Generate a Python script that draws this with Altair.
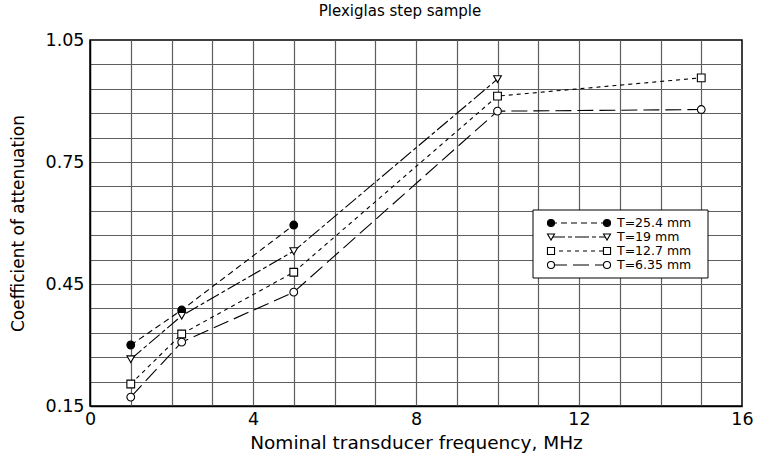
import altair as alt
import pandas as pd

# ---- data ----
series = ["T=25.4 mm", "T=19 mm", "T=12.7 mm", "T=6.35 mm"]
freq = [1, 2.25, 5, 10, 15]
t254 = [0.300, 0.386, 0.595]
t19 = [0.265, 0.372, 0.531, 0.954]
t127 = [0.204, 0.327, 0.479, 0.912, 0.957]
t635 = [0.172, 0.307, 0.430, 0.875, 0.879]

x_grid = [0, 1, 2, 3, 4, 5, 6, 7, 8, 9, 10, 11, 12, 13, 14, 15, 16]
y_grid = [0.15, 0.21, 0.27, 0.33, 0.39, 0.45, 0.51, 0.57, 0.63, 0.69,
          0.75, 0.81, 0.87, 0.93, 0.99, 1.05]

rows = []
for name, vals in zip(series, [t254, t19, t127, t635]):
    for f, v in zip(freq, vals):
        rows.append({"series": name, "freq": f, "coef": v})
df = pd.DataFrame(rows)

leg = pd.DataFrame({"series": series, "row": [0, 1, 2, 3]})

FONT = "DejaVu Sans"
dash_scale = alt.Scale(domain=series,
                       range=[[6, 4], [14, 3, 4, 3], [4, 4], [16, 6]])
shape_scale = alt.Scale(domain=series,
                        range=["circle", "triangle-down", "square", "circle"])
fill_scale = alt.Scale(domain=series,
                       range=["black", "white", "white", "white"])

xs = alt.Scale(domain=[0, 16], nice=False, zero=False)
ys = alt.Scale(domain=[0.15, 1.05], nice=False, zero=False)

x_enc = alt.X("freq:Q", scale=xs,
              axis=alt.Axis(values=x_grid, tickCount=40, labelFlush=False,
                            labelExpr="datum.value % 4 == 0 ? format(datum.value, 'd') : ''",
                            title="Nominal transducer frequency, MHz",
                            gridOpacity={"condition": {"test": "datum.value == 0 || datum.value == 16", "value": 0}, "value": 1}))
y_enc = alt.Y("coef:Q", scale=ys,
              axis=alt.Axis(values=y_grid, tickCount=40, labelFlush=False,
                            labelExpr="indexof([0.15, 0.45, 0.75, 1.05], datum.value) >= 0 ? format(datum.value, '.2f') : ''",
                            title="Coefficient of attenuation",
                            gridOpacity={"condition": {"test": "datum.value == 0.15 || datum.value == 1.05", "value": 0}, "value": 1}))

lines = alt.Chart(df).mark_line(color="black", strokeWidth=1.1).encode(
    x=x_enc, y=y_enc,
    strokeDash=alt.StrokeDash("series:N", scale=dash_scale, legend=None),
    detail="series:N",
    order="freq:Q",
)
points = alt.Chart(df).mark_point(stroke="black", strokeWidth=1.1, size=60, opacity=1,
                                  filled=False).encode(
    x=alt.X("freq:Q", scale=xs),
    y=alt.Y("coef:Q", scale=ys),
    shape=alt.Shape("series:N", scale=shape_scale, legend=None),
    fill=alt.Fill("series:N", scale=fill_scale, legend=None),
)
main = alt.layer(lines, points)

# ---- in-plot legend box ----
ly = alt.Y("row:Q", scale=alt.Scale(domain=[0, 3], range=[183, 225]), axis=None)
box = alt.Chart(pd.DataFrame({"k": [0]})).mark_rect(
    fill="white", stroke="black", strokeWidth=1).encode(
    x=alt.value(443), x2=alt.value(618), y=alt.value(170), y2=alt.value(238))
leg_lines = alt.Chart(leg).mark_rule(color="black", strokeWidth=1.1).encode(
    x=alt.value(461), x2=alt.value(517), y=ly,
    strokeDash=alt.StrokeDash("series:N", scale=dash_scale, legend=None))
leg_p1 = alt.Chart(leg).mark_point(stroke="black", strokeWidth=1.1, size=50,
                                   opacity=1).encode(
    x=alt.value(461), y=ly,
    shape=alt.Shape("series:N", scale=shape_scale, legend=None),
    fill=alt.Fill("series:N", scale=fill_scale, legend=None))
leg_p2 = leg_p1.encode(x=alt.value(517))
leg_text = alt.Chart(leg).mark_text(align="left", baseline="middle", font=FONT,
                                    fontSize=12.5, color="black").encode(
    x=alt.value(527), y=ly, text="series:N")
legend = alt.layer(box, leg_lines, leg_p1, leg_p2, leg_text)

chart = alt.layer(main, legend).resolve_scale(y="independent", x="independent").properties(
    width=652, height=366,
    autosize=alt.AutoSizeParams(type="none"),
    padding={"left": 90, "top": 40, "right": 16, "bottom": 65},
    title=alt.TitleParams("Plexiglas step sample", font=FONT, fontSize=15,
                          fontWeight="normal", color="black", anchor="middle",
                          dx=-16, offset=12),
).configure_view(stroke="black", strokeWidth=1.5).configure_axis(
    labelFont=FONT, labelFontSize=17.5, labelColor="black",
    titleFont=FONT, titleFontWeight="normal", titleColor="black",
    ticks=False, domainColor="black", domainWidth=1.5,
    gridColor="#5e5e5e", gridWidth=1.2, labelPadding=4,
).configure_axisX(titleFontSize=18.5, titlePadding=6).configure_axisY(
    titleFontSize=17, titlePadding=18, labelPadding=6)

chart.save("out.html", embed_options={"renderer": "svg", "actions": False})
